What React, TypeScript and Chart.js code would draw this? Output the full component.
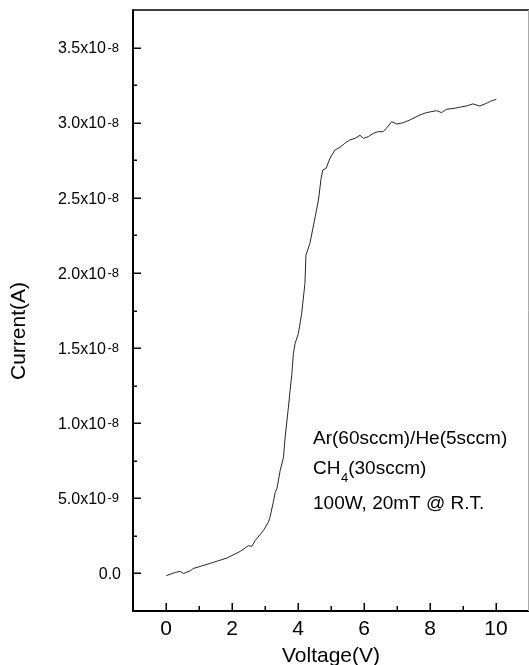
import React, { useEffect, useRef } from 'react';
import { Chart, registerables } from 'chart.js';

Chart.register(...registerables);

// ---- data ----
const voltage = [
  0.01, 0.28, 0.43, 0.53, 0.74, 0.83, 1.34, 1.85, 2.25, 2.50, 2.60, 2.70, 2.95, 3.10, 3.15,
  3.25, 3.31, 3.36, 3.46, 3.56, 3.61, 3.71, 3.76, 3.81, 3.86, 3.91, 4.01, 4.11, 4.21, 4.24,
  4.36, 4.52, 4.62, 4.70, 4.75, 4.85, 4.97, 5.12, 5.27, 5.42, 5.57, 5.73, 5.88, 5.98, 6.13,
  6.28, 6.43, 6.58, 6.68, 6.84, 6.99, 7.19, 7.39, 7.69, 7.89, 8.20, 8.35, 8.50, 8.75, 8.90,
  9.10, 9.30, 9.51, 9.71, 9.86, 10.01,
];
// current in units of 1e-8 A
const currentE8 = [
  -0.015, 0.007, 0.013, 0.0, 0.018, 0.033, 0.067, 0.103, 0.147, 0.185, 0.18, 0.218, 0.285, 0.34, 0.373,
  0.473, 0.54, 0.563, 0.685, 0.773, 0.907, 1.107, 1.218, 1.318, 1.463, 1.529, 1.596, 1.729, 1.929, 2.118,
  2.196, 2.373, 2.485, 2.63, 2.685, 2.696, 2.763, 2.818, 2.836, 2.863, 2.885, 2.896, 2.916, 2.896, 2.907,
  2.929, 2.94, 2.94, 2.963, 3.007, 2.991, 3.0, 3.018, 3.051, 3.067, 3.08, 3.067, 3.089, 3.096, 3.103,
  3.111, 3.125, 3.111, 3.129, 3.145, 3.156,
];

const xMajorTicks = [0, 2, 4, 6, 8, 10];
const xMinorTicks = [1, 3, 5, 7, 9];
const yMajorTicks = [0, 0.5e-8, 1.0e-8, 1.5e-8, 2.0e-8, 2.5e-8, 3.0e-8, 3.5e-8];
const yMinorTicks = [0.25e-8, 0.75e-8, 1.25e-8, 1.75e-8, 2.25e-8, 2.75e-8, 3.25e-8];
const yTickMantissa = ['0.0', '5.0x10', '1.0x10', '1.5x10', '2.0x10', '2.5x10', '3.0x10', '3.5x10'];
const yTickExponent = ['', '-9', '-8', '-8', '-8', '-8', '-8', '-8'];

const xTitle = 'Voltage(V)';
const yTitle = 'Current(A)';
const noteLine1 = 'Ar(60sccm)/He(5sccm)';
const noteLine2Main = 'CH';
const noteLine2Sub = '4';
const noteLine2Rest = '(30sccm)';
const noteLine3 = '100W, 20mT @ R.T.';

const FONT = '"Liberation Sans", Arial, Helvetica, sans-serif';

const framePlugin = {
  id: 'originFrame',
  afterDatasetsDraw(chart: any) {
    const { ctx, chartArea: a, scales } = chart;
    const xs = scales.x;
    const ys = scales.y;
    ctx.save();
    ctx.strokeStyle = '#000';
    ctx.fillStyle = '#000';

    // top border
    ctx.lineWidth = 1.5;
    ctx.beginPath();
    ctx.moveTo(a.left, a.top);
    ctx.lineTo(a.right, a.top);
    ctx.stroke();

    // left and bottom axes
    ctx.lineWidth = 2;
    ctx.beginPath();
    ctx.moveTo(a.left, a.top - 0.75);
    ctx.lineTo(a.left, a.bottom);
    ctx.lineTo(a.right, a.bottom);
    ctx.stroke();

    // right border (cut off at the edge)
    ctx.strokeStyle = '#aaa';
    ctx.lineWidth = 1;
    ctx.beginPath();
    ctx.moveTo(a.right - 0.5, a.top);
    ctx.lineTo(a.right - 0.5, a.bottom);
    ctx.stroke();
    ctx.strokeStyle = '#000';

    // ticks (inward)
    ctx.lineWidth = 1.5;
    ctx.beginPath();
    xMajorTicks.forEach((v) => {
      const px = Math.round(xs.getPixelForValue(v)) + 0.25;
      ctx.moveTo(px, a.bottom);
      ctx.lineTo(px, a.bottom - 8);
    });
    xMinorTicks.forEach((v) => {
      const px = Math.round(xs.getPixelForValue(v)) + 0.25;
      ctx.moveTo(px, a.bottom);
      ctx.lineTo(px, a.bottom - 5);
    });
    yMajorTicks.forEach((v) => {
      const py = Math.round(ys.getPixelForValue(v)) + 0.25;
      ctx.moveTo(a.left, py);
      ctx.lineTo(a.left + 8, py);
    });
    yMinorTicks.forEach((v) => {
      const py = Math.round(ys.getPixelForValue(v)) + 0.25;
      ctx.moveTo(a.left, py);
      ctx.lineTo(a.left + 4, py);
    });
    ctx.stroke();

    // y tick labels with superscript exponent
    ctx.textAlign = 'right';
    ctx.textBaseline = 'alphabetic';
    yMajorTicks.forEach((v, i) => {
      const py = ys.getPixelForValue(v);
      const exp = yTickExponent[i];
      if (exp) {
        ctx.font = `13px ${FONT}`;
        ctx.fillText(exp, 119, py + 4);
        const w = ctx.measureText(exp).width;
        ctx.font = `16px ${FONT}`;
        ctx.fillText(yTickMantissa[i], 119 - w - 1.5, py + 5.7);
      } else {
        ctx.font = `16px ${FONT}`;
        ctx.fillText(yTickMantissa[i], 121, py + 5.7);
      }
    });

    // axis titles
    ctx.font = `21px ${FONT}`;
    ctx.textAlign = 'center';
    ctx.fillText(xTitle, (a.left + a.right) / 2, 662);
    ctx.save();
    ctx.translate(25, 331);
    ctx.rotate(-Math.PI / 2);
    ctx.fillText(yTitle, 0, 0);
    ctx.restore();

    // annotation
    ctx.textAlign = 'left';
    ctx.font = `19px ${FONT}`;
    const nx = 313;
    ctx.fillText(noteLine1, nx, 444);
    ctx.fillText(noteLine2Main, nx, 474);
    let w2 = ctx.measureText(noteLine2Main).width;
    ctx.font = `13px ${FONT}`;
    ctx.fillText(noteLine2Sub, nx + w2 + 0.5, 482);
    w2 += ctx.measureText(noteLine2Sub).width + 0.5;
    ctx.font = `19px ${FONT}`;
    ctx.fillText(noteLine2Rest, nx + w2, 474);
    ctx.fillText(noteLine3, nx, 509);

    ctx.restore();
  },
};

export default function App() {
  const ref = useRef<HTMLCanvasElement | null>(null);

  useEffect(() => {
    document.body.style.margin = '0';
    const canvas = ref.current;
    if (!canvas) return;
    const chart = new Chart(canvas, {
      type: 'scatter',
      data: {
        datasets: [
          {
            data: voltage.map((v, i) => ({ x: v, y: currentE8[i] * 1e-8 })),
            showLine: true,
            borderColor: '#262626',
            borderWidth: 1,
            pointRadius: 0,
            fill: false,
            tension: 0,
          },
        ],
      },
      options: {
        animation: false,
        responsive: false,
        maintainAspectRatio: false,
        devicePixelRatio: 1,
        layout: { padding: { top: 10, right: 0, left: 0, bottom: 0 } },
        plugins: { legend: { display: false }, tooltip: { enabled: false } },
        events: [],
        scales: {
          x: {
            type: 'linear',
            min: -1,
            max: 11,
            grid: { display: false, drawTicks: false },
            border: { display: false },
            afterBuildTicks: (s: any) => {
              s.ticks = xMajorTicks.map((v) => ({ value: v }));
            },
            afterFit: (s: any) => {
              s.height = 54;
            },
            ticks: {
              autoSkip: false,
              maxRotation: 0,
              padding: 6,
              color: '#000',
              font: { size: 21, family: FONT },
              callback: (v: any) => String(v),
            },
          },
          y: {
            type: 'linear',
            min: -0.25e-8,
            max: 3.75e-8,
            grid: { display: false, drawTicks: false },
            border: { display: false },
            ticks: { display: false },
            afterFit: (s: any) => {
              s.width = 133;
            },
          },
        },
      },
      plugins: [framePlugin],
    });
    return () => chart.destroy();
  }, []);

  return (
    <div style={{ width: 529, height: 665, position: 'relative', background: '#fff' }}>
      <canvas ref={ref} width={529} height={665} style={{ display: 'block' }} />
    </div>
  );
}
